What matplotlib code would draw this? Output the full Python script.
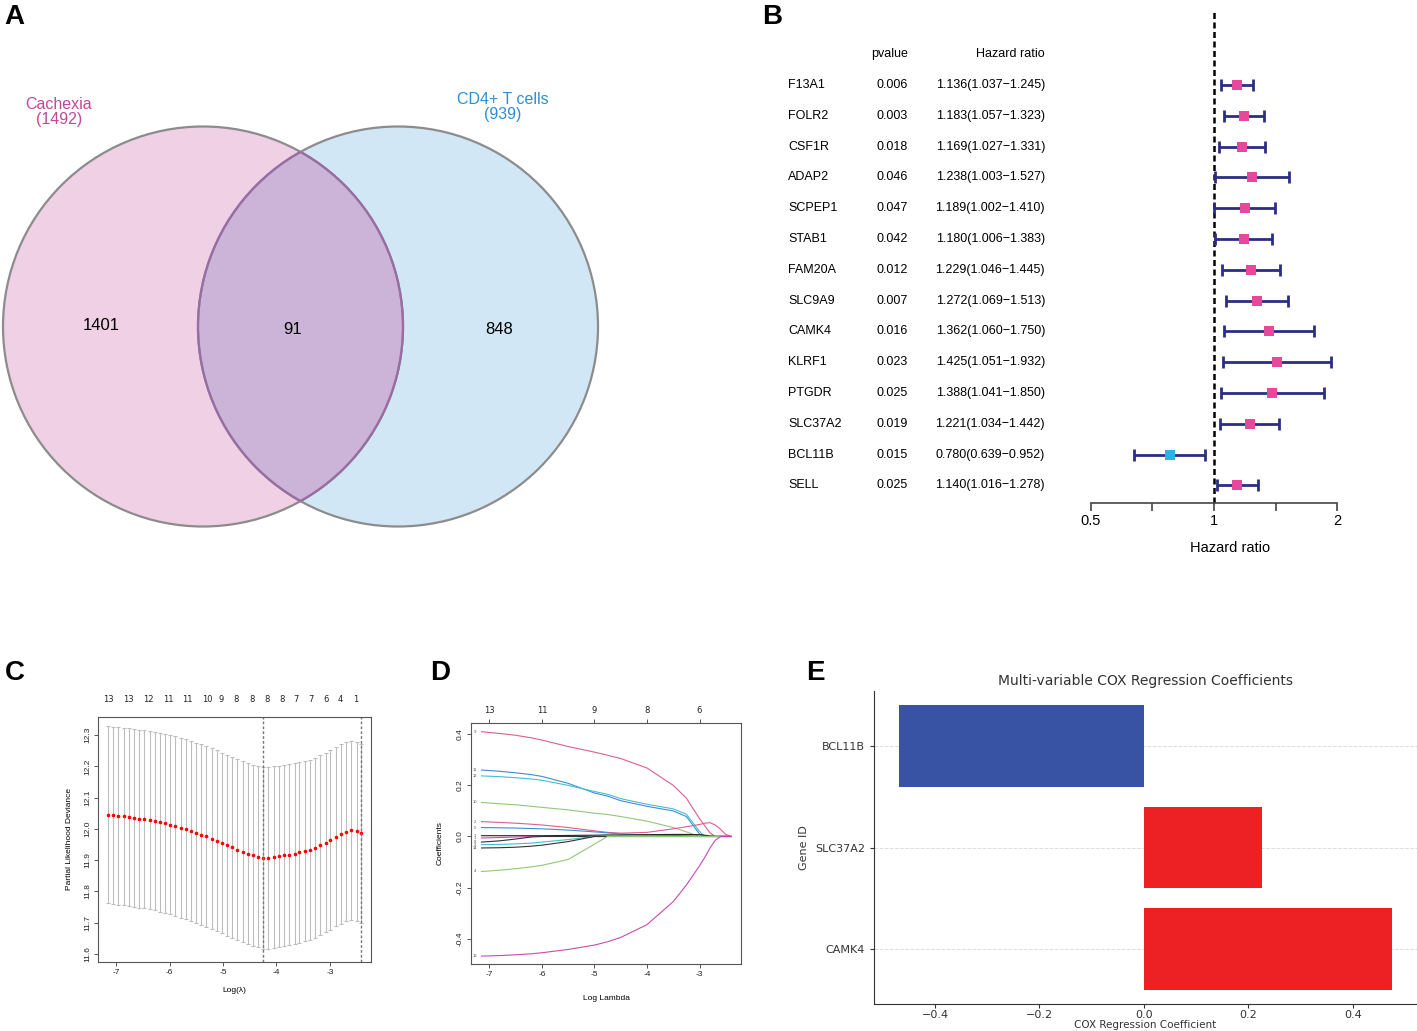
import numpy as np
import matplotlib
matplotlib.use("Agg")
import matplotlib.pyplot as plt
from matplotlib.patches import Circle
from matplotlib.transforms import blended_transform_factory

# ---------------- data ----------------
# A: Venn diagram
venn_names = ["Cachexia", "CD4+ T cells"]
venn_totals = [1492, 939]
venn_counts = [1401, 91, 848]  # left only, shared, right only

# B: univariate Cox forest plot
genes = ["F13A1", "FOLR2", "CSF1R", "ADAP2", "SCPEP1", "STAB1", "FAM20A",
         "SLC9A9", "CAMK4", "KLRF1", "PTGDR", "SLC37A2", "BCL11B", "SELL"]
pvalues = [0.006, 0.003, 0.018, 0.046, 0.047, 0.042, 0.012,
           0.007, 0.016, 0.023, 0.025, 0.019, 0.015, 0.025]
hr = [1.136, 1.183, 1.169, 1.238, 1.189, 1.180, 1.229,
      1.272, 1.362, 1.425, 1.388, 1.221, 0.780, 1.140]
hr_low = [1.037, 1.057, 1.027, 1.003, 1.002, 1.006, 1.046,
          1.069, 1.060, 1.051, 1.041, 1.034, 0.639, 1.016]
hr_high = [1.245, 1.323, 1.331, 1.527, 1.410, 1.383, 1.445,
           1.513, 1.750, 1.932, 1.850, 1.442, 0.952, 1.278]

# C: cross-validation curve
cv_loglam = [-7.15, -7.05, -6.96, -6.86, -6.76, -6.67, -6.57, -6.47, -6.37, -6.28,
             -6.18, -6.08, -5.99, -5.89, -5.79, -5.70, -5.60, -5.50, -5.41, -5.31,
             -5.21, -5.12, -5.02, -4.92, -4.83, -4.73, -4.63, -4.53, -4.44, -4.34,
             -4.25, -4.15, -4.05, -3.95, -3.86, -3.76, -3.66, -3.57, -3.47, -3.37,
             -3.28, -3.18, -3.08, -2.99, -2.89, -2.79, -2.70, -2.60, -2.50, -2.41]
cv_mean = [12.046, 12.044, 12.042, 12.040, 12.038, 12.036, 12.033, 12.031, 12.028, 12.025,
           12.021, 12.018, 12.014, 12.009, 12.004, 11.999, 11.994, 11.988, 11.982, 11.976,
           11.969, 11.962, 11.955, 11.948, 11.941, 11.934, 11.927, 11.921, 11.915, 11.911,
           11.907, 11.908, 11.910, 11.912, 11.915, 11.918, 11.921, 11.925, 11.929, 11.934,
           11.940, 11.947, 11.956, 11.965, 11.975, 11.984, 11.991, 11.995, 11.992, 11.986]
cv_sd = [0.283, 0.283, 0.284, 0.284, 0.284, 0.285, 0.285, 0.285, 0.286, 0.286,
         0.286, 0.287, 0.287, 0.287, 0.288, 0.288, 0.288, 0.288, 0.289, 0.289,
         0.289, 0.289, 0.289, 0.290, 0.290, 0.290, 0.290, 0.290, 0.290, 0.290,
         0.291, 0.291, 0.290, 0.290, 0.290, 0.290, 0.289, 0.289, 0.289, 0.288,
         0.288, 0.288, 0.287, 0.287, 0.287, 0.287, 0.286, 0.286, 0.286, 0.286]
cv_top_pos = [-7.14, -6.77, -6.40, -6.03, -5.66, -5.29, -5.03, -4.75, -4.46,
              -4.18, -3.90, -3.64, -3.36, -3.08, -2.80, -2.52]
cv_top_lab = ["13", "13", "12", "11", "11", "10", "9", "8", "8",
              "8", "8", "7", "7", "6", "4", "1"]

# D: LASSO coefficient paths
path_loglam = [-7.15, -6.8, -6.5, -6.2, -6.0, -5.5, -5.0, -4.75, -4.5, -4.0,
               -3.5, -3.25, -3.0, -2.9, -2.8, -2.7, -2.6, -2.5, -2.4]
coef_9 = [0.410, 0.403, 0.396, 0.386, 0.377, 0.352, 0.330, 0.318, 0.305, 0.268,
          0.200, 0.150, 0.070, 0.042, 0.014, 0.0, 0.0, 0.0, 0.0]
coef_11 = [0.260, 0.255, 0.249, 0.242, 0.235, 0.208, 0.170, 0.158, 0.140, 0.118,
           0.100, 0.078, 0.010, 0.0, 0.0, 0.0, 0.0, 0.0, 0.0]
coef_12 = [0.237, 0.234, 0.230, 0.225, 0.220, 0.200, 0.176, 0.165, 0.148, 0.126,
           0.108, 0.087, 0.020, 0.0, 0.0, 0.0, 0.0, 0.0, 0.0]
coef_10 = [0.133, 0.128, 0.124, 0.118, 0.114, 0.104, 0.091, 0.086, 0.078, 0.060,
           0.035, 0.018, 0.0, 0.0, 0.0, 0.0, 0.0, 0.0, 0.0]
coef_2 = [0.058, 0.055, 0.052, 0.048, 0.045, 0.035, 0.022, 0.016, 0.013, 0.016,
          0.030, 0.038, 0.047, 0.052, 0.054, 0.045, 0.028, 0.008, 0.0]
coef_5 = [0.035, 0.034, 0.033, 0.031, 0.030, 0.025, 0.018, 0.014, 0.010, 0.006,
          0.004, 0.003, 0.0, 0.0, 0.0, 0.0, 0.0, 0.0, 0.0]
coef_7 = [0.003, 0.003, 0.003, 0.003, 0.003, 0.004, 0.005, 0.006, 0.006, 0.007,
          0.008, 0.008, 0.007, 0.005, 0.002, 0.0, 0.0, 0.0, 0.0]
coef_1 = [-0.006, -0.004, -0.002, 0.0, 0.0, 0.0, 0.0, 0.0, 0.0, 0.0,
          0.0, 0.0, 0.0, 0.0, 0.0, 0.0, 0.0, 0.0, 0.0]
coef_8 = [-0.022, -0.017, -0.010, -0.002, 0.0, 0.0, 0.0, 0.0, 0.0, 0.0,
          0.0, 0.0, 0.0, 0.0, 0.0, 0.0, 0.0, 0.0, 0.0]
coef_3 = [-0.032, -0.031, -0.029, -0.026, -0.022, -0.012, 0.0, 0.0, 0.0, 0.0,
          0.0, 0.0, 0.0, 0.0, 0.0, 0.0, 0.0, 0.0, 0.0]
coef_14 = [-0.045, -0.044, -0.042, -0.038, -0.034, -0.020, 0.0, 0.0, 0.0, 0.0,
           0.0, 0.0, 0.0, 0.0, 0.0, 0.0, 0.0, 0.0, 0.0]
coef_4 = [-0.137, -0.132, -0.126, -0.119, -0.113, -0.090, -0.030, 0.0, 0.0, 0.0,
          0.0, 0.0, 0.0, 0.0, 0.0, 0.0, 0.0, 0.0, 0.0]
coef_13 = [-0.468, -0.466, -0.463, -0.459, -0.455, -0.442, -0.425, -0.412, -0.395, -0.345,
           -0.255, -0.190, -0.115, -0.082, -0.045, -0.015, 0.0, 0.0, 0.0]
path_top_pos = [-7, -6, -5, -4, -3]
path_top_lab = ["13", "11", "9", "8", "6"]

# E: multivariable Cox coefficients
cox_genes = ["CAMK4", "SLC37A2", "BCL11B"]
cox_coef = [0.474, 0.226, -0.469]

# ---------------- figure ----------------
W, H = 1417, 1031
fig = plt.figure(figsize=(W / 100, H / 100), dpi=100)
SANS = "Liberation Sans"


def rect(x0, y0, x1, y1):
    # pixel box (top-left origin) -> figure fraction rect
    return [x0 / W, 1 - y1 / H, (x1 - x0) / W, (y1 - y0) / H]


def panel_letter(x, y, s):
    fig.text(x / W, 1 - y / H, s, fontsize=20, fontweight="bold",
             family=SANS, va="top", ha="left")


# ---- A: Venn ----
axA = fig.add_axes(rect(0, 0, 620, 560))
axA.set_xlim(0, 620)
axA.set_ylim(560, 0)
axA.axis("off")
cL, cR, r = (203, 326.5), (398, 326.5), 200
axA.add_patch(Circle(cL, r, fc="#EFD0E4", ec="none"))
axA.add_patch(Circle(cR, r, fc="#D1E7F6", ec="none"))
ov = Circle(cR, r, fc="#CBB4D8", ec="none")
axA.add_patch(ov)
ov.set_clip_path(Circle(cL, r, transform=axA.transData))
axA.add_patch(Circle(cL, r, fill=False, ec="#8C8C8C", lw=1.6))
axA.add_patch(Circle(cR, r, fill=False, ec="#8C8C8C", lw=1.6))
inL = Circle(cL, r, fill=False, ec="#9A6BA4", lw=1.6)
axA.add_patch(inL)
inL.set_clip_path(Circle(cR, r, transform=axA.transData))
inR = Circle(cR, r, fill=False, ec="#9A6BA4", lw=1.6)
axA.add_patch(inR)
inR.set_clip_path(Circle(cL, r, transform=axA.transData))
axA.text(59, 112, f"{venn_names[0]}\n({venn_totals[0]})", ha="center", va="center",
         color="#C2479A", fontsize=11.5, family=SANS, linespacing=1.05)
axA.text(503, 107, f"{venn_names[1]}\n({venn_totals[1]})", ha="center", va="center",
         color="#2D8ED6", fontsize=11.5, family=SANS, linespacing=1.05)
for (x, y), n in zip([(101, 326), (293, 329), (499, 329)], venn_counts):
    axA.text(x, y, str(n), ha="center", va="center", fontsize=12, family=SANS)
panel_letter(4, 4, "A")

# ---- B: forest plot ----
axB = fig.add_axes(rect(1080, 10, 1380, 503))
axB.set_xscale("log", base=2)
axB.set_xlim(0.471, 2.54)
axB.set_ylim(len(genes) - 0.43, -2.435)
yy = np.arange(len(genes))
hr_a = np.array(hr)
lo_a = np.array(hr_low)
hi_a = np.array(hr_high)
axB.axvline(1, color="black", ls=(0, (2.4, 1.4)), lw=1.8, zorder=1)
axB.errorbar(hr_a, yy, xerr=[hr_a - lo_a, hi_a - hr_a], fmt="none",
             ecolor="#2B2E83", elinewidth=2, capsize=4, capthick=2, zorder=2)
sq_colors = ["#29B4E6" if h < 1 else "#E8489B" for h in hr]
axB.scatter(hr_a, yy, marker="s", s=52, c=sq_colors, zorder=3, linewidths=0)
for s in ["left", "top", "right"]:
    axB.spines[s].set_visible(False)
axB.spines["bottom"].set_bounds(0.5, 2)
axB.spines["bottom"].set_color("#444444")
axB.spines["bottom"].set_linewidth(1.2)
axB.set_xticks([0.5, 2 ** -0.5, 1, 2 ** 0.5, 2], labels=["0.5", "", "1", "", "2"])
axB.minorticks_off()
axB.set_yticks([])
axB.tick_params(axis="x", length=6, width=1.2, color="#444444", labelsize=10.5, pad=2)
for lb in axB.get_xticklabels():
    lb.set_family(SANS)
axB.set_xlabel("Hazard ratio", fontsize=10.5, family=SANS, labelpad=9)
tB = blended_transform_factory(fig.transFigure, axB.transData)
axB.text(890 / W, -1, "pvalue", transform=tB, ha="center", va="center", fontsize=9, family=SANS)
axB.text(1045 / W, -1, "Hazard ratio", transform=tB, ha="right", va="center", fontsize=9, family=SANS)
for i, g in enumerate(genes):
    axB.text(788 / W, i, g, transform=tB, ha="left", va="center", fontsize=9, family=SANS)
    axB.text(892 / W, i, f"{pvalues[i]:.3f}", transform=tB, ha="center", va="center",
             fontsize=9, family=SANS)
    axB.text(1045 / W, i, f"{hr[i]:.3f}({hr_low[i]:.3f}\u2212{hr_high[i]:.3f})", transform=tB,
             ha="right", va="center", fontsize=9, family=SANS)
panel_letter(762, 4, "B")


def r_style(ax):
    for s in ax.spines.values():
        s.set_color("#555555")
        s.set_linewidth(0.8)
    ax.tick_params(direction="out", length=3, width=0.7, color="#555555",
                   labelsize=6, labelcolor="#222222", pad=2)
    for lb in ax.get_xticklabels() + ax.get_yticklabels():
        lb.set_family(SANS)
    for lb in ax.get_yticklabels():
        lb.set_rotation(90)
        lb.set_va("center")


# ---- C: CV curve ----
axC = fig.add_axes(rect(98, 717, 371, 962))
cm = np.array(cv_mean)
sd = np.array(cv_sd)
axC.errorbar(cv_loglam, cm, yerr=sd, fmt="none", ecolor="#BDBDBD",
             elinewidth=0.8, capsize=1.6, capthick=0.8)
axC.plot(cv_loglam, cm, "o", color="#FF0000", ms=2.6, mew=0)
axC.axvline(cv_loglam[int(np.argmin(cm))], color="#777777", ls=(0, (2, 1.5)), lw=1)
axC.axvline(cv_loglam[-1], color="#777777", ls=(0, (2, 1.5)), lw=1)
axC.set_xlim(-7.34, -2.23)
axC.set_ylim(11.574, 12.358)
axC.set_xticks([-7, -6, -5, -4, -3], labels=["-7", "-6", "-5", "-4", "-3"])
axC.set_yticks([11.6, 11.7, 11.8, 11.9, 12.0, 12.1, 12.2, 12.3],
               labels=["11.6", "11.7", "11.8", "11.9", "12.0", "12.1", "12.2", "12.3"])
r_style(axC)
secC = axC.secondary_xaxis("top")
secC.set_xticks(cv_top_pos, labels=cv_top_lab)
secC.tick_params(length=0, labelsize=6, pad=9, labelcolor="#222222")
secC.spines["top"].set_visible(False)
axC.set_xlabel("Log(\u03bb)", fontsize=6, family=SANS, labelpad=8)
axC.set_ylabel("Partial Likelihood Deviance", fontsize=6, family=SANS, labelpad=8)
panel_letter(5, 660, "C")

# ---- D: coefficient paths ----
axD = fig.add_axes(rect(471, 723, 741, 964))
paths = [("9", coef_9, "#D9608F"), ("11", coef_11, "#3C8FD6"), ("12", coef_12, "#45BECE"),
         ("10", coef_10, "#92C87A"), ("2", coef_2, "#D9608F"), ("5", coef_5, "#3C8FD6"),
         ("7", coef_7, "#222222"), ("1", coef_1, "#C94BAF"), ("8", coef_8, "#333333"),
         ("3", coef_3, "#45BECE"), ("14", coef_14, "#333333"), ("4", coef_4, "#92C87A"),
         ("13", coef_13, "#C94BAF")]
for lab, vals, col in paths:
    axD.plot(path_loglam, vals, color=col, lw=0.8)
    axD.text(-7.27, vals[0], lab, fontsize=3, color="#555555", ha="center", va="center",
             family=SANS)
axD.set_xlim(-7.35, -2.21)
axD.set_ylim(-0.499, 0.444)
axD.set_xticks([-7, -6, -5, -4, -3], labels=["-7", "-6", "-5", "-4", "-3"])
axD.set_yticks([-0.4, -0.2, 0.0, 0.2, 0.4], labels=["-0.4", "-0.2", "0.0", "0.2", "0.4"])
r_style(axD)
secD = axD.secondary_xaxis("top")
secD.set_xticks(path_top_pos, labels=path_top_lab)
secD.tick_params(length=3, width=0.7, color="#555555", labelsize=6, pad=3, labelcolor="#222222")
secD.spines["top"].set_visible(False)
axD.set_xlabel("Log Lambda", fontsize=6, family=SANS, labelpad=12)
axD.set_ylabel("Coefficients", fontsize=6, family=SANS, labelpad=10)
panel_letter(430, 660, "D")

# ---- E: multivariable Cox ----
axE = fig.add_axes(rect(874, 691, 1417, 1004))
bar_colors = ["#3953A4" if c < 0 else "#ED2024" for c in cox_coef]
axE.barh(cox_genes, cox_coef, color=bar_colors, height=0.8)
axE.set_axisbelow(True)
axE.grid(axis="y", color="#DDDDDD", ls="--", lw=0.7)
axE.spines["top"].set_visible(False)
axE.spines["right"].set_visible(False)
axE.spines["left"].set_color("#333333")
axE.spines["bottom"].set_color("#333333")
axE.set_xlim(-0.5167, 0.5225)
axE.set_xticks([-0.4, -0.2, 0.0, 0.2, 0.4])
axE.tick_params(labelsize=8, labelcolor="#333333", length=3, color="#333333")
axE.tick_params(axis="x", pad=1.5)
axE.set_title("Multi-variable COX Regression Coefficients", fontsize=10, color="#333333", pad=4)
axE.set_xlabel("COX Regression Coefficient", fontsize=7.5, color="#333333", labelpad=0)
axE.set_ylabel("Gene ID", fontsize=8, color="#333333", labelpad=4)
panel_letter(806, 660, "E")

fig.savefig("out.png", dpi=100)
